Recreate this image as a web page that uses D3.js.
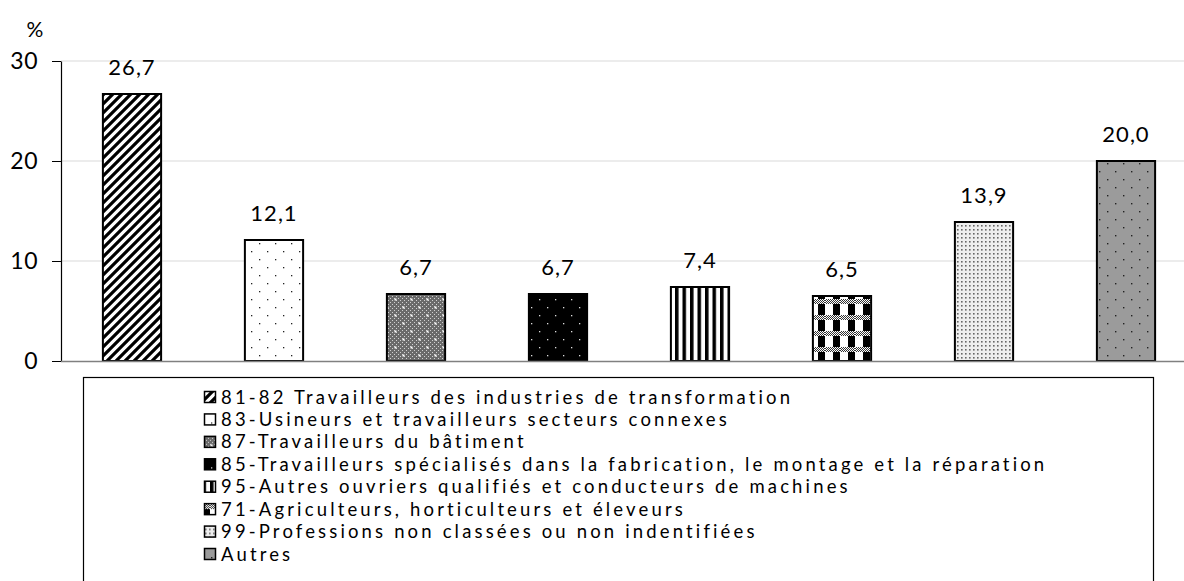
<!DOCTYPE html>
<html><head><meta charset="utf-8">
<script src="https://cdn.jsdelivr.net/npm/d3@7"></script>
<style>body{margin:0;background:#fff}svg{display:block}text{font-family:Lato,"Open Sans",sans-serif;fill:#000}</style>
</head><body>
<script>
const categories = [
  "81-82 Travailleurs des industries de transformation",
  "83-Usineurs et travailleurs secteurs connexes",
  "87-Travailleurs du bâtiment",
  "85-Travailleurs spécialisés dans la fabrication, le montage et la réparation",
  "95-Autres ouvriers qualifiés et conducteurs de machines",
  "71-Agriculteurs, horticulteurs et éleveurs",
  "99-Professions non classées ou non indentifiées",
  "Autres"
];
const values = [26.7, 12.1, 6.7, 6.7, 7.4, 6.5, 13.9, 20.0];
const yTicks = [0, 10, 20, 30];
const unitLabel = "%";

const W = 1184, H = 581;
const svg = d3.select("body").append("svg").attr("width", W).attr("height", H);
const defs = svg.append("defs");

function pat(id, w, h, build) {
  const p = defs.append("pattern").attr("id", id).attr("patternUnits", "userSpaceOnUse")
    .attr("width", w).attr("height", h);
  build(p);
  return "url(#" + id + ")";
}
const fills = [
  pat("p0", 9, 9, p => {
    p.append("rect").attr("width", 9).attr("height", 9).attr("fill", "#fff");
    p.append("path").attr("d", "M-3,12 L12,-3 M-3,3 L3,-3 M6,12 L12,6").attr("stroke", "#000").attr("stroke-width", 3.2);
  }),
  pat("p1", 16, 16, p => {
    p.append("rect").attr("width", 16).attr("height", 16).attr("fill", "#fff");
    p.append("rect").attr("x", 3).attr("y", 3).attr("width", 1.3).attr("height", 1.3).attr("fill", "#222");
    p.append("rect").attr("x", 11).attr("y", 11).attr("width", 1.3).attr("height", 1.3).attr("fill", "#222");
  }),
  pat("p2", 16, 16, p => {
    p.append("rect").attr("width", 16).attr("height", 16).attr("fill", "#6a6a6a");
    for (let i = 0; i < 16; i += 2) for (let j = 0; j < 16; j += 2)
      if ((i + j) % 4 === 0) p.append("rect").attr("x", i).attr("y", j).attr("width", 1).attr("height", 1).attr("fill", "#d0d0d0");
    p.append("rect").attr("x", 2.5).attr("y", 2.5).attr("width", 2).attr("height", 2).attr("fill", "#fff");
    p.append("rect").attr("x", 10.5).attr("y", 10.5).attr("width", 2).attr("height", 2).attr("fill", "#fff");
  }),
  pat("p3", 16, 16, p => {
    p.append("rect").attr("width", 16).attr("height", 16).attr("fill", "#000");
    p.append("rect").attr("x", 3).attr("y", 3).attr("width", 1.3).attr("height", 1.3).attr("fill", "#ddd");
    p.append("rect").attr("x", 11).attr("y", 11).attr("width", 1.3).attr("height", 1.3).attr("fill", "#ddd");
  }),
  pat("p4", 7.5, 10, p => {
    p.append("rect").attr("width", 7.5).attr("height", 10).attr("fill", "#fff");
    p.append("rect").attr("x", 0).attr("width", 3.5).attr("height", 10).attr("fill", "#000");
  }),
  pat("p5", 15, 16, p => {
    p.append("rect").attr("width", 15).attr("height", 16).attr("fill", "#fff");
    p.append("rect").attr("x", 8).attr("y", 0).attr("width", 7).attr("height", 11).attr("fill", "#000");
    p.append("rect").attr("x", 0).attr("y", 11).attr("width", 15).attr("height", 5).attr("fill", "#fff");
    for (let i = 0; i < 15; i++) for (let j = 11; j < 16; j++)
      if ((i + j) % 2 === 0) p.append("rect").attr("x", i).attr("y", j).attr("width", 1).attr("height", 1).attr("fill", "#333");
  }),
  pat("p6", 4, 4, p => {
    p.append("rect").attr("width", 4).attr("height", 4).attr("fill", "#eee");
    p.append("rect").attr("x", 1).attr("y", 1).attr("width", 1.6).attr("height", 1.6).attr("fill", "#666");
  }),
  pat("p7", 16, 16, p => {
    p.append("rect").attr("width", 16).attr("height", 16).attr("fill", "#9b9b9b");
    p.append("rect").attr("x", 3).attr("y", 3).attr("width", 1.4).attr("height", 1.4).attr("fill", "#222");
    p.append("rect").attr("x", 11).attr("y", 11).attr("width", 1.4).attr("height", 1.4).attr("fill", "#222");
  })
];

const x0 = 61, y0 = 361;
const x = d3.scaleBand().domain(categories).range([x0, 1197]).paddingInner(0.59).paddingOuter(0.295);
const y = d3.scaleLinear().domain([0, 30]).range([y0, 61]);

// gridlines
svg.append("g").selectAll("line").data(yTicks.filter(d => d > 0)).join("line")
  .attr("x1", x0).attr("x2", W).attr("y1", d => y(d)).attr("y2", d => y(d))
  .attr("stroke", "#d9d9d9").attr("stroke-width", 1);

// y axis
const ya = svg.append("g").attr("transform", `translate(${x0},0)`)
  .call(d3.axisLeft(y).tickValues(yTicks).tickSize(9).tickSizeOuter(0).tickPadding(14).tickFormat(d3.format("d")));
ya.attr("font-size", 23).attr("font-family", "Lato,'Open Sans',sans-serif");
ya.select(".domain").attr("stroke", "#000").attr("stroke-width", 1.2);
ya.selectAll(".tick line").attr("stroke", "#000");
ya.selectAll(".tick text").style("font-size", "23px").style("letter-spacing", "0.5px");

svg.append("text").attr("x", 35).attr("y", 37).attr("text-anchor", "middle").style("font-size", "21px").text(unitLabel);

// bars
svg.append("g").selectAll("rect").data(values).join("rect")
  .attr("x", (d, i) => x(categories[i])).attr("width", x.bandwidth())
  .attr("y", d => y(d)).attr("height", d => y0 - y(d))
  .attr("fill", (d, i) => fills[i]).attr("stroke", "#000").attr("stroke-width", 2);

// x axis baseline
svg.append("line").attr("x1", x0).attr("x2", W).attr("y1", y0 + 0.5).attr("y2", y0 + 0.5).attr("stroke", "#808080").attr("stroke-width", 1.5);

// value labels
const fmt = v => d3.format(".1f")(v).replace(".", ",");
svg.append("g").selectAll("text").data(values).join("text")
  .attr("x", (d, i) => x(categories[i]) + x.bandwidth() / 2)
  .attr("y", d => y(d) - 19).attr("text-anchor", "middle")
  .style("font-size", "22px").style("letter-spacing", "1px").text(fmt);

// legend
const lg = svg.append("g");
lg.append("rect").attr("x", 83.5).attr("y", 377.5).attr("width", 1070).attr("height", 230)
  .attr("fill", "#fff").attr("stroke", "#000").attr("stroke-width", 1.2);
const ly = d3.scalePoint().domain(categories).range([397, 554]);
const items = lg.selectAll("g.item").data(categories).join("g").attr("class", "item")
  .attr("transform", d => `translate(0,${ly(d)})`);
items.append("rect").attr("x", 204.5).attr("y", -5.5).attr("width", 11).attr("height", 11)
  .attr("fill", (d, i) => fills[i]).attr("stroke", "#000").attr("stroke-width", 1.5);
const texts = items.append("text").attr("x", 221).attr("y", 6.5).style("font-size", "18.5px").text(d => d);
let maxW = 0, maxN = 1;
texts.each(function (d) { const w = this.getComputedTextLength(); if (w > maxW) { maxW = w; maxN = d.length; } });
const ls = Math.max(0, (827 - maxW) / maxN);
texts.style("letter-spacing", ls + "px");
</script>
</body></html>
